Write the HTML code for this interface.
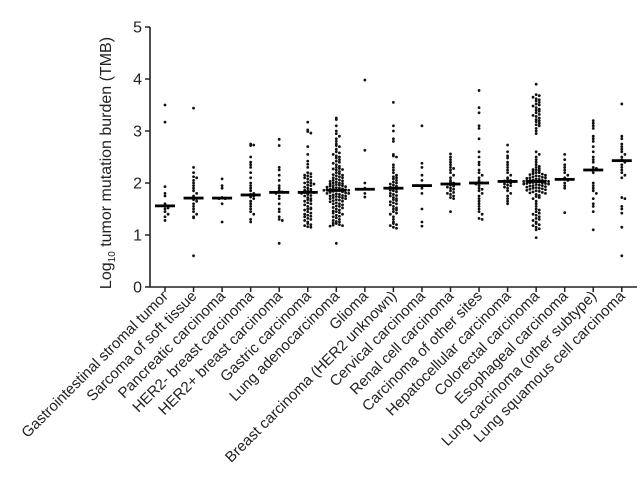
<!DOCTYPE html>
<html><head><meta charset="utf-8"><style>
html,body{margin:0;padding:0;background:#fff;}
svg{display:block;font-family:"Liberation Sans",Arial,sans-serif;}
</style></head><body>
<svg id="chart" width="640" height="488" viewBox="0 0 640 488" xmlns="http://www.w3.org/2000/svg">
<g id="axes"></g>
<g id="dots"></g>
<g id="labels"></g>
<text transform="translate(111,163) rotate(-90)" text-anchor="middle" font-size="16" fill="#222">Log<tspan font-size="10" dy="4">10</tspan><tspan dy="-4"> tumor mutation burden (TMB)</tspan></text>
</svg>
<script>
const categories = ["Gastrointestinal stromal tumor","Sarcoma of soft tissue","Pancreatic carcinoma","HER2- breast carcinoma","HER2+ breast carcinoma","Gastric carcinoma","Lung adenocarcinoma","Glioma","Breast carcinoma (HER2 unknown)","Cervical carcinoma","Renal cell carcinoma","Carcinoma of other sites","Hepatocellular carcinoma","Colorectal carcinoma","Esophageal carcinoma","Lung carcinoma (other subtype)","Lung squamous cell carcinoma"];
const medians = [1.56,1.71,1.71,1.77,1.82,1.82,1.86,1.88,1.9,1.95,1.98,2.0,2.03,2.03,2.07,2.25,2.43];
const yTicks = [0,1,2,3,4,5];
const s1 = [3.5,3.17,1.93,1.8,1.75,1.6,1.55,1.52,1.5,1.45,1.4,1.35,1.28];
const s2 = [3.44,2.3,2.2,2.12,2.1,2.05,2.0,1.95,1.9,1.85,1.8,1.75,1.72,1.7,1.68,1.65,1.6,1.55,1.5,1.45,1.4,1.35,1.33,0.6];
const s3 = [2.08,1.95,1.9,1.72,1.7,1.7,1.6,1.25];
const s4 = [2.75,2.73,2.72,2.5,2.4,2.35,2.3,2.2,2.1,2.0,1.95,1.9,1.85,1.8,1.78,1.75,1.73,1.7,1.65,1.6,1.55,1.5,1.45,1.4,1.3,1.25];
const s5 = [2.84,2.72,2.3,2.25,2.15,2.05,1.95,1.9,1.85,1.83,1.8,1.75,1.7,1.6,1.5,1.45,1.35,1.3,1.28,0.84];
const s6 = [3.17,3.02,2.99,2.96,2.7,2.55,2.42,2.36,2.3,2.2,2.18,2.15,2.14,2.12,2.1,2.08,2.05,2.02,2.0,2.0,1.98,1.96,1.95,1.92,1.9,1.88,1.86,1.85,1.84,1.82,1.82,1.8,1.78,1.76,1.75,1.72,1.7,1.68,1.66,1.65,1.62,1.6,1.58,1.55,1.52,1.5,1.5,1.48,1.45,1.42,1.4,1.38,1.36,1.35,1.32,1.3,1.28,1.25,1.22,1.2,1.18,1.16,1.15];
const s7 = [3.25,3.22,3.1,3.0,2.95,2.9,2.85,2.8,2.75,2.72,2.7,2.65,2.6,2.58,2.55,2.52,2.5,2.48,2.45,2.42,2.4,2.38,2.35,2.32,2.3,2.28,2.27,2.26,2.25,2.22,2.2,2.18,2.16,2.15,2.14,2.12,2.1,2.1,2.08,2.06,2.05,2.04,2.03,2.02,2.0,2.0,1.99,1.98,1.97,1.96,1.95,1.95,1.94,1.93,1.92,1.91,1.9,1.9,1.89,1.88,1.87,1.87,1.86,1.86,1.85,1.85,1.84,1.83,1.82,1.81,1.8,1.8,1.79,1.78,1.77,1.76,1.75,1.75,1.74,1.73,1.72,1.71,1.7,1.7,1.68,1.67,1.66,1.65,1.64,1.62,1.6,1.6,1.58,1.56,1.55,1.53,1.52,1.5,1.48,1.46,1.45,1.43,1.42,1.4,1.38,1.36,1.35,1.33,1.3,1.28,1.26,1.25,1.23,1.22,1.2,1.19,1.18,1.17,0.84];
const s8 = [3.98,2.63,2.0,1.9,1.8,1.73];
const s9 = [3.55,3.1,3.0,2.85,2.8,2.55,2.52,2.5,2.35,2.3,2.25,2.2,2.15,2.12,2.1,2.08,2.05,2.02,2.0,1.98,1.96,1.94,1.92,1.9,1.88,1.86,1.85,1.83,1.8,1.78,1.76,1.75,1.72,1.7,1.68,1.66,1.64,1.62,1.6,1.58,1.55,1.52,1.5,1.48,1.45,1.42,1.4,1.35,1.3,1.25,1.22,1.2,1.18,1.15,1.13];
const s10 = [3.1,2.38,2.3,2.15,2.05,1.95,1.9,1.8,1.5,1.25,1.17];
const s11 = [2.56,2.5,2.45,2.4,2.35,2.3,2.28,2.25,2.2,2.15,2.1,2.05,2.02,2.0,1.98,1.96,1.94,1.92,1.9,1.88,1.85,1.82,1.8,1.78,1.75,1.72,1.7,1.45];
const s12 = [3.78,3.45,3.35,3.1,3.05,2.85,2.6,2.5,2.4,2.35,2.25,2.2,2.15,2.1,2.05,2.02,2.0,1.98,1.95,1.9,1.88,1.85,1.8,1.75,1.7,1.65,1.6,1.55,1.5,1.45,1.4,1.32,1.3];
const s13 = [2.73,2.6,2.52,2.48,2.4,2.35,2.3,2.25,2.2,2.15,2.1,2.08,2.05,2.04,2.03,2.02,2.0,1.98,1.96,1.95,1.92,1.9,1.85,1.8,1.75,1.7,1.65,1.6];
const s14 = [3.9,3.7,3.68,3.65,3.62,3.6,3.58,3.55,3.52,3.5,3.48,3.45,3.42,3.4,3.38,3.35,3.32,3.3,3.28,3.25,3.22,3.2,3.18,3.15,3.12,3.1,3.05,3.0,2.95,2.6,2.55,2.5,2.45,2.4,2.35,2.32,2.3,2.28,2.26,2.25,2.24,2.22,2.2,2.2,2.18,2.17,2.16,2.15,2.14,2.13,2.12,2.11,2.1,2.1,2.09,2.08,2.07,2.06,2.05,2.05,2.04,2.04,2.03,2.03,2.02,2.02,2.01,2.0,2.0,1.99,1.99,1.98,1.98,1.97,1.96,1.95,1.95,1.94,1.93,1.92,1.91,1.9,1.9,1.89,1.88,1.87,1.86,1.85,1.84,1.83,1.82,1.81,1.8,1.78,1.76,1.74,1.72,1.7,1.65,1.6,1.55,1.5,1.48,1.45,1.42,1.4,1.38,1.35,1.32,1.3,1.28,1.25,1.22,1.2,1.18,1.15,1.12,1.1,0.95];
const s15 = [2.55,2.45,2.35,2.3,2.25,2.2,2.15,2.1,2.08,2.05,2.0,1.95,1.9,1.43];
const s16 = [3.2,3.15,3.1,3.05,2.9,2.85,2.8,2.7,2.6,2.5,2.45,2.4,2.3,2.28,2.25,2.2,2.0,1.95,1.9,1.85,1.8,1.7,1.6,1.55,1.45,1.1];
const s17 = [3.52,2.9,2.85,2.75,2.7,2.65,2.6,2.55,2.5,2.45,2.43,2.4,2.35,2.3,2.25,2.2,2.15,2.1,1.72,1.7,1.55,1.5,1.42,1.15,0.6];
const series = [s1,s2,s3,s4,s5,s6,s7,s8,s9,s10,s11,s12,s13,s14,s15,s16,s17];

const NS = "http://www.w3.org/2000/svg";
const X0 = 150, X1 = 637, Y0 = 287, UNIT = 52, FIRST = 165, STEP = 28.55;
function yScale(v){ return Y0 - v*UNIT; }
function xScale(i){ return FIRST + i*STEP; }
function mk(tag, attrs, parent){ const e = document.createElementNS(NS, tag); for (const k in attrs) e.setAttribute(k, attrs[k]); parent.appendChild(e); return e; }

const axes = document.getElementById('axes');
const yl = mk('line',{x1:X0,y1:yScale(5),x2:X0,y2:Y0,stroke:'#222','stroke-width':1.6},axes);


const xl = mk('line',{x1:X0,y1:Y0,x2:X1,y2:Y0,stroke:'#222','stroke-width':1.6},axes);


yTicks.forEach(t => {
  const tk = mk('line',{x1:X0-5,y1:yScale(t),x2:X0,y2:yScale(t),stroke:'#222','stroke-width':1.5},axes);
  
  
  const tl = mk('text',{x:X0-8,y:yScale(t)+5.5,'text-anchor':'end','font-size':16,fill:'#222'},axes);
  
  
  tl.textContent = t;
});

const dots = document.getElementById('dots');
const labels = document.getElementById('labels');
categories.forEach((c,i) => {
  const cx = xScale(i);
  const tk = mk('line',{x1:cx,y1:Y0,x2:cx,y2:Y0+5,stroke:'#222','stroke-width':1.5},axes);
  
  
  const lb = mk('text',{transform:`translate(${cx+4},${Y0+10}) rotate(-45)`,'text-anchor':'end','font-size':15,fill:'#222'},labels);
  
  
  lb.textContent = c;
  const bins = {};
  series[i].forEach(v => {
    const py = yScale(v);
    const b = Math.round(py/3);
    const n = bins[b] || 0; bins[b] = n+1;
    const off = n===0 ? 0 : (n%2 ? 1 : -1) * Math.ceil(n/2) * 3.1;
    const d = mk('circle',{cx:cx+off,cy:py,r:1.4,fill:'#111'},dots);
    
    
  });
  const m = mk('rect',{x:cx-10,y:yScale(medians[i])-1.4,width:20,height:2.8,fill:'#000'},dots);
  
  
});
</script>
</body></html>
